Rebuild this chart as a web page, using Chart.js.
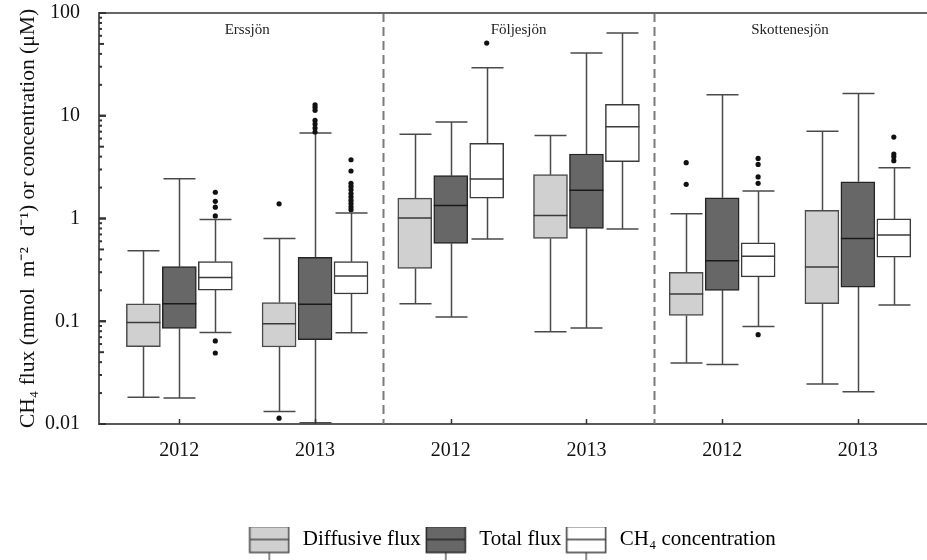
<!DOCTYPE html>
<html>
<head>
<meta charset="utf-8">
<script src="https://cdn.jsdelivr.net/npm/chart.js@4"></script>
<style>
  html, body { margin: 0; padding: 0; background: #fff; }
  #wrap { width: 927px; height: 560px; }
</style>
</head>
<body>
<div id="wrap"><canvas id="c" width="927" height="560"></canvas></div>
<script>
// ---------------- data ----------------
const yearLabels = ['2012', '2013', '2012', '2013', '2012', '2013'];
const lakeLabels = ['Erssjön', 'Följesjön', 'Skottenesjön'];
const seriesNames = ['Diffusive flux', 'Total flux', 'CH\u2084 concentration'];
const yTickValues = [0.01, 0.1, 1, 10, 100];
const yTickLabels = ['0.01', '0.1', '1', '10', '100'];

// [lower whisker, Q1, median, Q3, upper whisker] for each lake/year group
const diffusiveStats = [
  [0.0182, 0.0565, 0.097, 0.148, 0.486],
  [0.0132, 0.0561, 0.0946, 0.152, 0.64],
  [0.148, 0.327, 1.01, 1.58, 6.59],
  [0.079, 0.64, 1.07, 2.67, 6.44],
  [0.0392, 0.114, 0.184, 0.30, 1.11],
  [0.0245, 0.148, 0.337, 1.20, 7.05]
];
const totalStats = [
  [0.0179, 0.0852, 0.148, 0.34, 2.44],
  [0.0103, 0.0661, 0.146, 0.42, 6.8],
  [0.110, 0.572, 1.34, 2.61, 8.69],
  [0.086, 0.80, 1.88, 4.24, 40.8],
  [0.038, 0.200, 0.388, 1.59, 16.0],
  [0.0206, 0.215, 0.64, 2.28, 16.5]
];
const concStats = [
  [0.0778, 0.201, 0.267, 0.38, 0.98],
  [0.0774, 0.184, 0.275, 0.38, 1.13],
  [0.63, 1.58, 2.42, 5.38, 29.4],
  [0.79, 3.57, 7.82, 12.9, 63.8],
  [0.089, 0.27, 0.43, 0.58, 1.85],
  [0.144, 0.42, 0.69, 0.99, 3.12]
];
const diffusiveOutliers = [[], [1.39, 0.0114], [], [], [3.49, 2.15], []];
const totalOutliers = [[], [12.8, 12.1, 11.3, 9.0, 8.3, 7.6, 6.95], [], [], [], []];
const concOutliers = [
  [1.80, 1.47, 1.29, 1.06, 0.0643, 0.0491],
  [3.73, 2.9, 2.2, 2.05, 1.9, 1.75, 1.62, 1.5, 1.4, 1.3, 1.22],
  [51],
  [],
  [3.84, 3.36, 2.54, 2.20, 0.074],
  [6.2, 4.24, 3.99, 3.65]
];

// ---------------- styles / layout ----------------
const FONT = "'Liberation Serif', 'Times New Roman', serif";
const seriesStats = [diffusiveStats, totalStats, concStats];
const seriesOutliers = [diffusiveOutliers, totalOutliers, concOutliers];
const offsets = [-0.265, 0, 0.265];
const fills = ['#d0d0d0', '#676767', '#ffffff'];
const borders = ['#4a4a4a', '#262626', '#3a3a3a'];
const whiskerColor = '#4a4a4a';
const BOX_W = 34, CAP_W = 32;

const datasets = [];
seriesStats.forEach((stats, si) => {
  datasets.push({
    type: 'bar',
    label: seriesNames[si],
    data: stats.map((s, gi) => ({ x: gi + offsets[si], y: [s[1], s[3]] })),
    backgroundColor: fills[si],
    borderColor: borders[si],
    borderWidth: 1.5,
    borderSkipped: false,
    barThickness: BOX_W,
    grouped: false,
    order: 2
  });
});
seriesOutliers.forEach((outs, si) => {
  const pts = [];
  outs.forEach((list, gi) => list.forEach(v => pts.push({ x: gi + offsets[si], y: v })));
  datasets.push({
    type: 'scatter',
    label: seriesNames[si] + ' outliers',
    data: pts,
    pointRadius: 2.6,
    pointBackgroundColor: '#111',
    pointBorderColor: '#111',
    pointBorderWidth: 0,
    order: 1
  });
});

function makeGlyph(fill, stroke) {
  const c = document.createElement('canvas');
  c.width = 42; c.height = 46;
  const g = c.getContext('2d');
  g.strokeStyle = whiskerColor; g.lineWidth = 1.3;
  g.beginPath(); g.moveTo(21, 0); g.lineTo(21, 10); g.moveTo(21, 36); g.lineTo(21, 46); g.stroke();
  g.fillStyle = fill; g.fillRect(1.5, 10, 39, 26);
  g.strokeStyle = stroke; g.lineWidth = 1.5; g.strokeRect(1.5, 10, 39, 26);
  g.beginPath(); g.moveTo(1.5, 23); g.lineTo(40.5, 23); g.stroke();
  return c;
}
const glyphs = fills.map((f, i) => makeGlyph(f, borders[i]));

const boxPlugin = {
  id: 'boxplotExtras',
  beforeDatasetsDraw(chart) {
    const { ctx, chartArea: a, scales: { x, y } } = chart;
    ctx.save();
    // dashed separators between lakes
    ctx.strokeStyle = '#7a7a7a';
    ctx.lineWidth = 2;
    ctx.setLineDash([9, 5]);
    [1.5, 3.5].forEach(v => {
      const px = Math.round(x.getPixelForValue(v)) + 0.5;
      ctx.beginPath(); ctx.moveTo(px, a.top); ctx.lineTo(px, a.bottom); ctx.stroke();
    });
    ctx.setLineDash([]);
    // whiskers
    ctx.strokeStyle = whiskerColor;
    ctx.lineWidth = 1.5;
    seriesStats.forEach((stats, si) => {
      stats.forEach((s, gi) => {
        const cx = Math.round(x.getPixelForValue(gi + offsets[si])) + 0.5;
        const pMin = y.getPixelForValue(s[0]), pQ1 = y.getPixelForValue(s[1]);
        const pQ3 = y.getPixelForValue(s[3]), pMax = y.getPixelForValue(s[4]);
        ctx.beginPath();
        ctx.moveTo(cx, pQ3); ctx.lineTo(cx, pMax);
        ctx.moveTo(cx - CAP_W / 2, pMax); ctx.lineTo(cx + CAP_W / 2, pMax);
        ctx.moveTo(cx, pQ1); ctx.lineTo(cx, pMin);
        ctx.moveTo(cx - CAP_W / 2, pMin); ctx.lineTo(cx + CAP_W / 2, pMin);
        ctx.stroke();
      });
    });
    ctx.restore();
  },
  afterDatasetsDraw(chart) {
    const { ctx, chartArea: a, scales: { x, y } } = chart;
    ctx.save();
    // medians
    ctx.lineWidth = 1.5;
    seriesStats.forEach((stats, si) => {
      ctx.strokeStyle = si === 1 ? '#1a1a1a' : '#3a3a3a';
      stats.forEach((s, gi) => {
        const cx = x.getPixelForValue(gi + offsets[si]);
        const pm = y.getPixelForValue(s[2]);
        ctx.beginPath(); ctx.moveTo(cx - BOX_W / 2, pm); ctx.lineTo(cx + BOX_W / 2, pm); ctx.stroke();
      });
    });
    // top frame line
    ctx.strokeStyle = '#666';
    ctx.lineWidth = 2;
    ctx.beginPath(); ctx.moveTo(a.left, a.top); ctx.lineTo(chart.width, a.top); ctx.stroke();
    ctx.restore();
  },
  afterDraw(chart) {
    const { ctx, chartArea: a, scales: { x, y } } = chart;
    ctx.save();
    // bottom axis runs on to the right edge of the picture
    ctx.strokeStyle = '#5a5a5a';
    ctx.lineWidth = 2;
    const by = Math.round(x.top);
    ctx.beginPath(); ctx.moveTo(a.right - 2, by); ctx.lineTo(chart.width, by); ctx.stroke();
    // inward y ticks (major, mid, minor)
    ctx.strokeStyle = '#333';
    ctx.lineWidth = 2;
    for (let e = -2; e <= 1; e++) {
      const dec = Math.pow(10, e);
      for (let m = 1; m <= 10; m++) {
        const v = dec * m;
        const py = y.getPixelForValue(v);
        const len = (m === 1 || m === 10) ? 7 : (m === 5 ? 5 : 3);
        ctx.beginPath(); ctx.moveTo(a.left, py); ctx.lineTo(a.left + len, py); ctx.stroke();
      }
    }
    // inward x ticks
    ctx.lineWidth = 1.5;
    yearLabels.forEach((l, i) => {
      const px = Math.round(x.getPixelForValue(i)) + 0.5;
      ctx.beginPath(); ctx.moveTo(px, a.bottom); ctx.lineTo(px, a.bottom - 5); ctx.stroke();
    });
    // lake names
    ctx.fillStyle = '#222';
    ctx.font = '15px ' + FONT;
    ctx.textAlign = 'center';
    ctx.textBaseline = 'middle';
    lakeLabels.forEach((t, i) => {
      ctx.fillText(t, x.getPixelForValue(i * 2 + 0.5), a.top + 17);
    });
    ctx.restore();
  }
};

new Chart(document.getElementById('c'), {
  type: 'bar',
  data: { datasets },
  options: {
    responsive: false,
    animation: false,
    devicePixelRatio: 1,
    layout: { padding: { top: 13, left: 0, right: 0, bottom: 0 } },
    plugins: {
      tooltip: { enabled: false },
      legend: {
        display: true,
        position: 'bottom',
        fullSize: false,
        labels: {
          usePointStyle: true,
          pointStyleWidth: 46,
          padding: 2,
          color: '#111',
          font: { family: FONT, size: 21 },
          generateLabels: () => seriesNames.map((n, i) => ({
            text: n,
            pointStyle: glyphs[i],
            fillStyle: fills[i],
            strokeStyle: borders[i],
            lineWidth: 1,
            hidden: false,
            datasetIndex: i
          }))
        }
      }
    },
    scales: {
      x: {
        type: 'linear',
        offset: false,
        min: -0.592,
        max: 5.48,
        grid: { display: false, drawTicks: false, offset: false },
        border: { display: true, color: '#5a5a5a', width: 2 },
        afterBuildTicks: s => { s.ticks = yearLabels.map((l, i) => ({ value: i })); },
        afterFit: s => { s.height = 103; s.paddingLeft = 0; s.paddingRight = 0; },
        ticks: {
          padding: 15,
          color: '#111',
          font: { family: FONT, size: 20 },
          maxRotation: 0,
          autoSkip: false,
          callback: (v, i) => yearLabels[i]
        }
      },
      y: {
        type: 'logarithmic',
        min: 0.01,
        max: 100,
        grid: { display: false, drawTicks: false },
        border: { display: true, color: '#5a5a5a', width: 2 },
        afterBuildTicks: s => { s.ticks = yTickValues.map(v => ({ value: v, major: true })); },
        afterFit: s => { s.width = 99; s.paddingTop = 0; s.paddingBottom = 0; },
        ticks: {
          padding: 19,
          color: '#111',
          font: { family: FONT, size: 20 },
          autoSkip: false,
          callback: (v, i) => yTickLabels[i]
        },
        title: {
          display: true,
          text: 'CH\u2084 flux (mmol  m\u207B\u00B2  d\u207B\u00B9) or concentration (\u03BCM)',
          color: '#111',
          font: { family: FONT, size: 21.5 },
          padding: { top: 15, bottom: 0 }
        }
      }
    }
  },
  plugins: [boxPlugin]
});
</script>
</body>
</html>
